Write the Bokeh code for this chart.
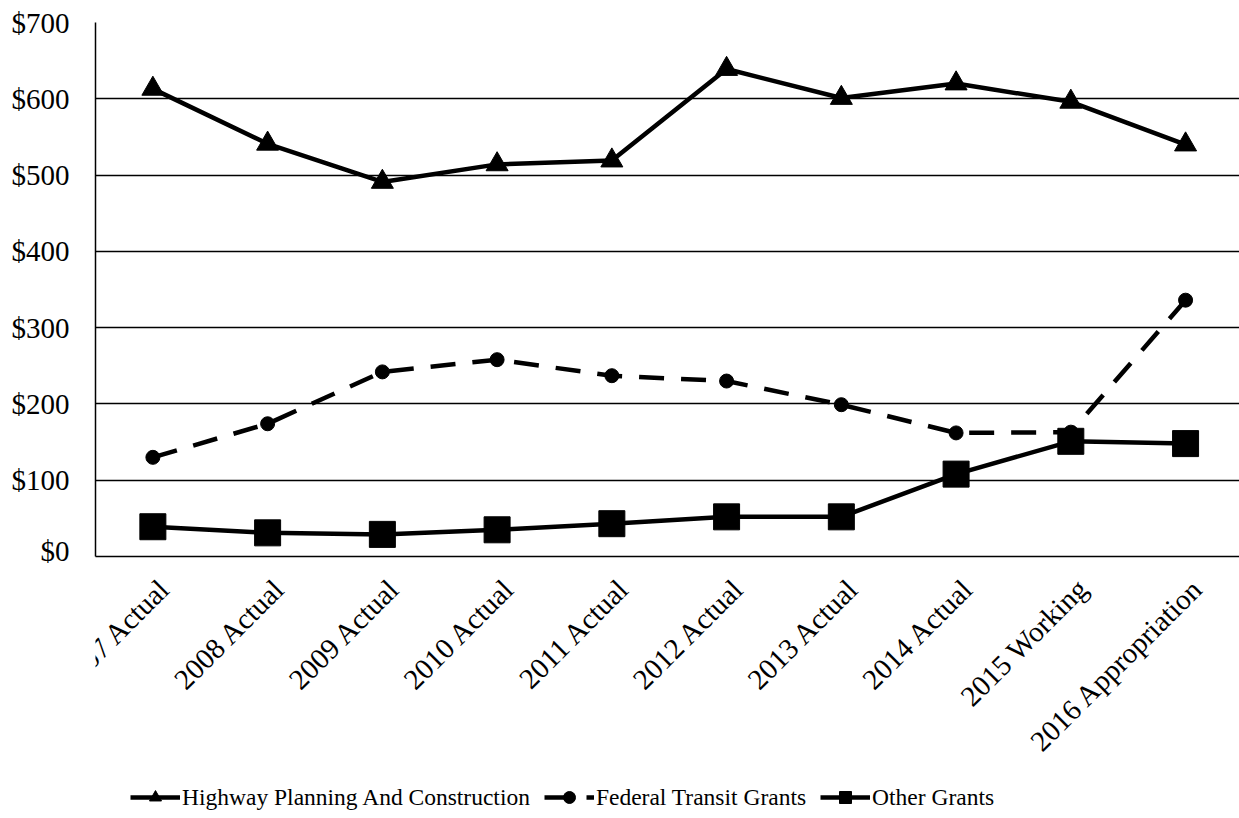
from bokeh.plotting import figure
from bokeh.layouts import column
from bokeh.models import FixedTicker, Legend, LegendItem, ColumnDataSource, Range1d
from bokeh.core.properties import value
from bokeh.embed import file_html
from bokeh.resources import INLINE
import math

# Fiscal-year categories (millions of dollars)
categories = ["2007 Actual", "2008 Actual", "2009 Actual", "2010 Actual", "2011 Actual",
              "2012 Actual", "2013 Actual", "2014 Actual", "2015 Working", "2016 Appropriation"]
highway = [613, 541, 491, 514, 519, 639, 601, 620, 596, 540]
transit = [130, 174, 242, 258, 237, 230, 199, 162, 163, 336]
other = [39, 31, 29, 35, 43, 52, 52, 108, 151, 148]
y_ticks = [0, 100, 200, 300, 400, 500, 600, 700]
y_tick_labels = ["$0", "$100", "$200", "$300", "$400", "$500", "$600", "$700"]
series_names = ["Highway Planning And Construction", "Federal Transit Grants", "Other Grants"]

FONT = "Liberation Serif"
xs = list(range(len(categories)))
src = ColumnDataSource(dict(x=xs, highway=highway, transit=transit, other=other))

X0, X1 = -0.5, 9.47
FRAME_W, LEFT = 1144, 95
px_per_unit = FRAME_W / (X1 - X0)

# ---- main chart -------------------------------------------------------------
p = figure(frame_width=FRAME_W, frame_height=534, output_backend="svg", toolbar_location=None,
           x_range=(X0, X1), y_range=(0, 700),
           min_border_left=LEFT, min_border_right=0, min_border_top=22, min_border_bottom=10)
p.outline_line_color = None
p.background_fill_color = "white"
p.border_fill_color = "white"

p.xgrid.grid_line_color = None
p.ygrid.grid_line_color = "black"
p.ygrid.grid_line_width = 1.5
p.yaxis.ticker = FixedTicker(ticks=y_ticks)
p.ygrid.ticker = FixedTicker(ticks=y_ticks[1:])
p.yaxis.major_label_overrides = {t: s for t, s in zip(y_ticks, y_tick_labels)}
p.xaxis.ticker = FixedTicker(ticks=[])   # category labels are drawn in the strip below

for ax in (p.xaxis, p.yaxis):
    ax.axis_line_color = "black"
    ax.axis_line_width = 1.5
    ax.major_tick_line_color = None
    ax.minor_tick_line_color = None
p.yaxis.major_label_text_font = FONT
p.yaxis.major_label_text_font_size = "29px"
p.yaxis.major_label_text_color = "black"
p.yaxis.major_label_standoff = 20

line_kw = dict(line_color="black", line_width=4.5)
styles = [
    ("highway", dict(), dict(marker="triangle", size=22)),
    ("transit", dict(line_dash="25 17"), dict(marker="circle", size=14)),
    ("other", dict(), dict(marker="square", size=26)),
]
for col, lkw, mkw in styles:
    p.line("x", col, source=src, **line_kw, **lkw)
    p.scatter("x", col, source=src, fill_color="black", line_color="black", **mkw)

# ---- category labels and legend strip ----------------------------------------
STRIP_H = 252
q = figure(frame_width=LEFT + FRAME_W, frame_height=STRIP_H, output_backend="svg",
           toolbar_location=None,
           x_range=Range1d(X0 - LEFT / px_per_unit, X1), y_range=Range1d(0, STRIP_H),
           min_border_left=0, min_border_right=0, min_border_top=0, min_border_bottom=0,
           x_axis_location=None, y_axis_location=None)
q.outline_line_color = None
q.grid.grid_line_color = None
q.background_fill_color = "white"
q.border_fill_color = "white"

q.text(x=xs, y=[STRIP_H - 17] * len(xs), text=categories, angle=math.pi / 4,
       x_offset=12 - LEFT, text_align="right", text_baseline="middle",
       text_font=value(FONT), text_font_size="29px", text_color="black")

# legend swatches: one off-range point each so the samples get styled
swatch = ColumnDataSource(dict(x=[X1 + 5], y=[-100]))
items = []
for name, (col, lkw, mkw) in zip(series_names, styles):
    lr = q.line("x", "y", source=swatch, **line_kw, **lkw)
    mr = q.scatter("x", "y", source=swatch, fill_color="black", line_color="black", **mkw)
    items.append(LegendItem(label=name, renderers=[lr, mr]))

legend = Legend(items=items, orientation="horizontal", location=(130, 6))
legend.label_text_font = FONT
legend.label_text_font_size = "23.5px"
legend.label_text_color = "black"
legend.glyph_width = 50
legend.glyph_height = 30
legend.label_standoff = 2
legend.spacing = 14
legend.border_line_color = None
legend.background_fill_alpha = 0
legend.margin = 0
legend.padding = 0
q.add_layout(legend, "center")

layout = column(p, q, spacing=0)
open("out.html", "w").write(file_html(layout, INLINE))
